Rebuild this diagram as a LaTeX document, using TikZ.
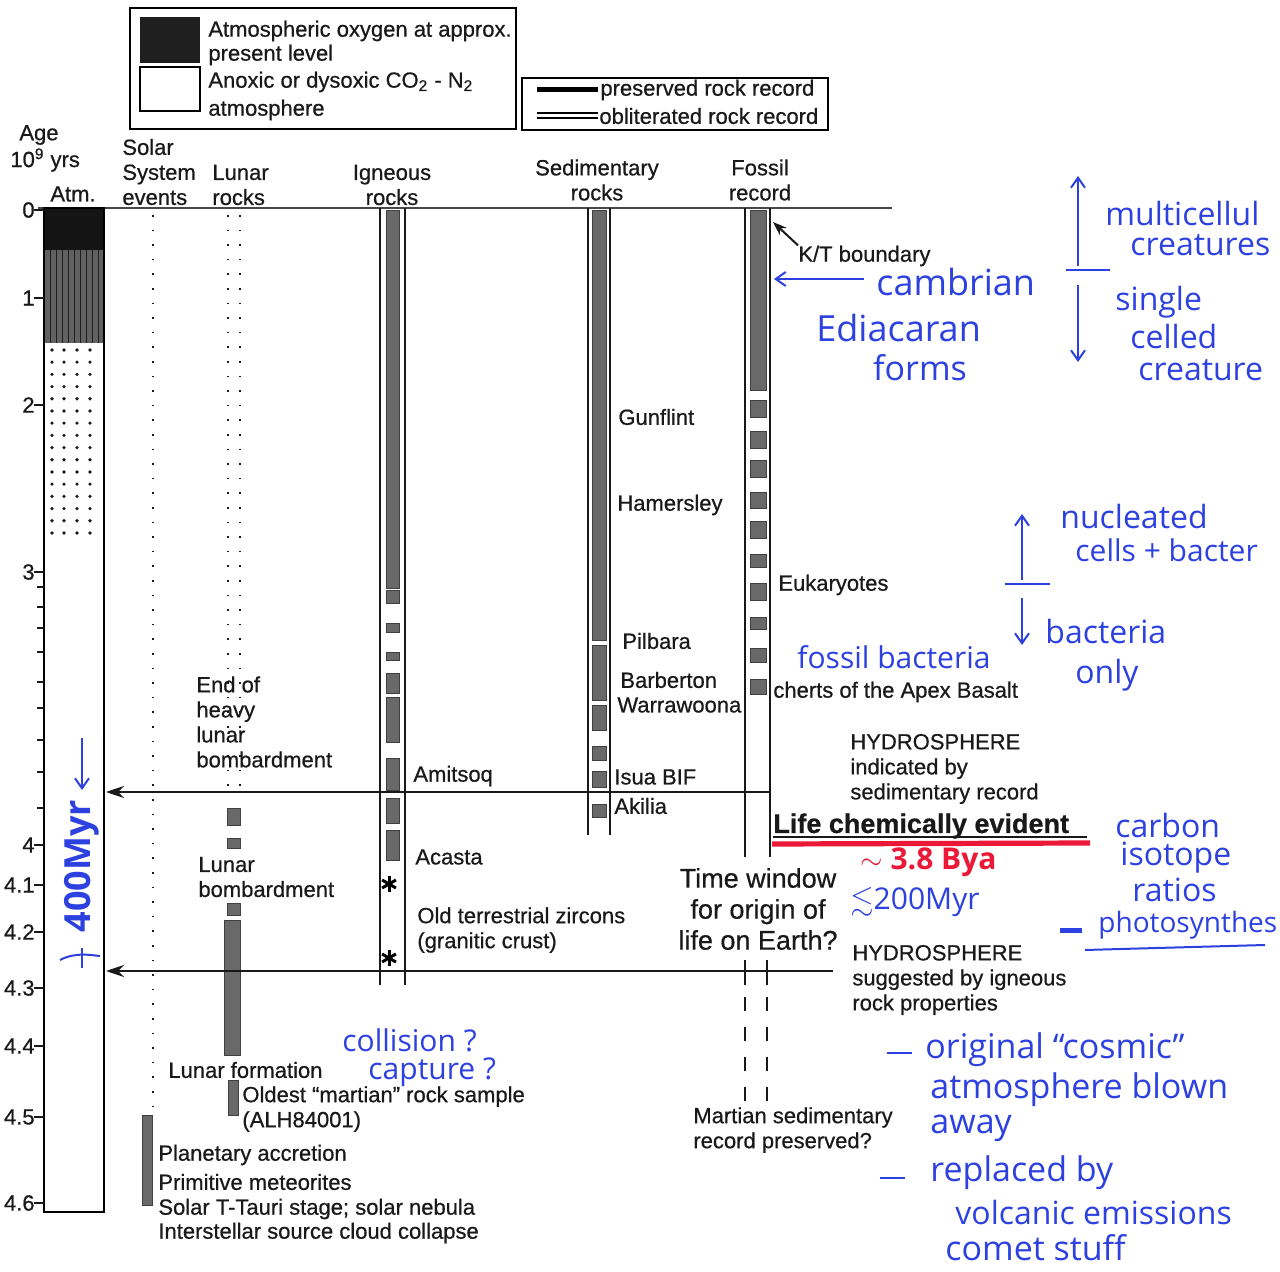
\documentclass[tikz,border=0pt]{standalone}
\usepackage{amssymb}
\usepackage{fontspec}
\setmainfont{Liberation Sans}[FakeBold=0.6]
\newfontfamily\hand{Open Sans}
\usetikzlibrary{arrows.meta}
\definecolor{ink}{RGB}{25,25,25}
\definecolor{pen}{RGB}{45,65,225}
\definecolor{redpen}{RGB}{235,25,55}
\definecolor{bargray}{RGB}{105,105,105}
\tikzset{
 lbl/.style={font=\fontsize{11}{12.5}\selectfont, inner sep=0pt, anchor=west, text=ink},
 lblc/.style={lbl, anchor=center, align=center},
 hw/.style={font=\hand\fontsize{16}{20}\selectfont, text=pen, inner sep=0pt, anchor=west},
 colline/.style={draw=ink, line width=0.9pt},
 bar/.style={fill=bargray, draw=black!75, line width=0.3pt},
 dotcol/.style={draw=ink, line width=0.9pt, dash pattern=on 0.8pt off 6.5pt},
 tickmark/.style={draw=ink, line width=0.8pt},
 harrow/.style={draw=ink, line width=1.1pt, -{Stealth[length=9pt,width=6pt]}},
 penarrow/.style={draw=pen, line width=1pt, -{Straight Barb[length=5pt,width=7pt]}},
 penline/.style={draw=pen, line width=1pt},
}
\begin{document}
\begin{tikzpicture}[x=0.5pt,y=-0.5pt]
\useasboundingbox (0,0) rectangle (1280,1272);
\fill[white] (0,0) rectangle (1280,1272);
% ---------- legend 1
\draw[line width=1.3pt] (130,8) rectangle (516,129);
\node (sw1) [fill=black!88, minimum width=30pt, minimum height=23pt, inner sep=0pt] at (170,40) {};
\node (sw2) [draw, line width=0.8pt, minimum width=30pt, minimum height=22pt, inner sep=0pt] at (170,89) {};
\node[lbl] (lg1) at (208,31) {Atmospheric oxygen at approx.};
\node[lbl] (lg2) at (208,55) {present level};
\node[lbl] (lg3) at (208,82) {Anoxic or dysoxic CO\textsubscript{2} - N\textsubscript{2}};
\node[lbl] (lg4) at (208,110) {atmosphere};
% ---------- legend 2
\draw[line width=1.3pt] (522,78) rectangle (828,130);
\draw[line width=2.5pt] (537,90) -- (598,90);
\draw[line width=0.7pt] (537,113) -- (598,113);
\draw[line width=0.7pt] (537,118) -- (598,118);
\node[lbl] (lg5) at (600,90) {preserved rock record};
\node[lbl] (lg6) at (599,116) {obliterated rock record};
% ---------- headers
\node[lbl] (age) at (19,135) {Age};
\node[lbl] (yrs) at (10,160) {10\textsuperscript{9} yrs};
\node[lbl] (atm) at (50,194) {Atm.};
\node[lbl, align=left] (sse) at (122,172) {Solar\\System\\events};
\node[lbl, align=left] (lunh) at (212,185) {Lunar\\rocks};
\node[lblc] (ignh) at (392,185) {Igneous\\rocks};
\node[lblc] (sedh) at (597,180) {Sedimentary\\rocks};
\node[lblc] (fosh) at (760,180) {Fossil\\record};
\draw[ink!80, line width=0.7pt] (38,208) -- (892,208);
% ---------- atmosphere column
\fill[black!92] (44,208) rectangle (104,250);
\fill[black!62] (44,250) rectangle (104,343);
\foreach \x in {50,56,...,100} \draw[black!88, line width=0.4pt] (\x,250) -- (\x,343);
\foreach \r in {0,...,15} \foreach \x in {52,64,77,90} \fill[ink] (\x,{350+\r*12.2}) circle (0.9pt);
\draw[line width=1.2pt] (44,208) rectangle (104,1212);
% ---------- axis
\foreach \y/\t [count=\i] in {210/0, 298/1, 405/2, 572/3, 845/4, 885/4.1, 932/4.2, 988/4.3, 1046/4.4, 1117/4.5, 1203/4.6} {
  \draw[tickmark] (34,\y) -- (44,\y);
  \node[lbl, anchor=east] (ax\i) at (35,\y) {\t};
}
\foreach \y in {587,607,628,652,682,708,740,772,808} \draw[tickmark] (37,\y) -- (44,\y);
% ---------- solar system events
\draw[dotcol] (153,215) -- (153,1110);
\draw[bar] (142,1115) rectangle (152,1205);
% ---------- lunar rocks
\draw[dotcol] (228,215) -- (228,790);
\draw[dotcol] (240,215) -- (240,790);
\draw[bar] (227,808) rectangle (240,825);
\draw[bar] (227,838) rectangle (240,848);
\draw[bar] (227,903) rectangle (240,915);
\draw[bar] (224,920) rectangle (240,1055);
\draw[bar] (228,1080) rectangle (238,1115);
% ---------- igneous rocks
\draw[colline] (380,208) -- (380,985);
\draw[colline] (405,208) -- (405,985);
\draw[bar] (386,210) rectangle (399,588);
\foreach \a/\b in {590/603, 623/632, 652/660, 673/693, 697/742, 758/790, 798/823, 830/860}
  \draw[bar] (386,\a) rectangle (399,\b);
\foreach \c in {(389,884),(389,958)} \foreach \a in {90,30,150} {
  \draw[line width=1.5pt] \c ++(\a:8) -- ++(\a+180:16);
}
% ---------- sedimentary rocks
\draw[colline] (588,208) -- (588,835);
\draw[colline] (610,208) -- (610,835);
\draw[bar] (592,210) rectangle (606,640);
\foreach \a/\b in {645/700, 705/730, 746/760, 771/787, 804/817}
  \draw[bar] (592,\a) rectangle (606,\b);
% ---------- fossil record
\draw[colline] (745,208) -- (745,857);
\draw[colline] (770,208) -- (770,857);
\draw[bar] (750,210) rectangle (766,390);
\foreach \a/\b in {400/417, 431/448, 460/477, 492/508, 521/538, 554/567, 583/600, 617/629, 648/662, 679/694}
  \draw[bar] (750,\a) rectangle (766,\b);
\draw[colline] (745,960) -- (745,985);
\draw[colline] (767,960) -- (767,985);
\draw[colline, dash pattern=on 7pt off 8pt] (745,997) -- (745,1105);
\draw[colline, dash pattern=on 7pt off 8pt] (767,997) -- (767,1105);
% ---------- horizontal arrows
\coordinate (a1s) at (770,792);
\coordinate (a1e) at (106,792);
\draw[harrow] (a1s) -- (a1e);
\coordinate (a2s) at (833,971);
\coordinate (a2e) at (106,971);
\draw[harrow] (a2s) -- (a2e);
% ---------- printed labels
\node[lbl] (kt) at (798,256) {K/T boundary};
\coordinate (kttip) at (773,222);
\draw[ink, line width=1pt, -{Stealth[length=7pt,width=5pt]}] (kt.north west) -- (kttip);
\node[lbl] (gun) at (618,417) {Gunflint};
\node[lbl] (ham) at (617,505) {Hamersley};
\node[lbl] (pil) at (622,641) {Pilbara};
\node[lbl] (bar) at (620,680) {Barberton};
\node[lbl] (war) at (617,705) {Warrawoona};
\node[lbl] (isua) at (614,777) {Isua BIF};
\node[lbl] (aki) at (614,806) {Akilia};
\node[lbl] (ami) at (413,776) {Amitsoq};
\node[lbl] (aca) at (415,857) {Acasta};
\node[lbl, align=left] (zirc) at (417,930) {Old terrestrial zircons\\(granitic crust)};
\node[lbl, align=left] (eohlb) at (196,722) {End of\\heavy\\lunar\\bombardment};
\node[lbl, align=left] (lb) at (198,877) {Lunar\\bombardment};
\node[lbl] (lf) at (168,1070) {Lunar formation};
\node[lbl, align=left] (mars) at (242,1109) {Oldest “martian” rock sample\\(ALH84001)};
\node[lbl] (pa) at (158,1155) {Planetary accretion};
\node[lbl] (pm) at (158,1182) {Primitive meteorites};
\node[lbl] (tt) at (158,1209) {Solar T-Tauri stage; solar nebula};
\node[lbl] (isc) at (158,1233) {Interstellar source cloud collapse};
\node[lbl] (euk) at (778,585) {Eukaryotes};
\node[lbl] (apex) at (773,692) {cherts of the Apex Basalt};
\node[lbl, align=left] (hyd1) at (850,769) {HYDROSPHERE\\indicated by\\sedimentary record};
\node[lbl, font=\bfseries\fontsize{13.5}{15}\selectfont] (life) at (773,826) {Life chemically evident};
\draw[ink, line width=0.9pt] (773,837) -- (1087,837);
\draw[redpen, line width=2.6pt] (772,844) -- (1090,843);
\node[lblc, font=\fontsize{13.5}{15.5}\selectfont] (tw) at (758,909) {Time window\\for origin of\\life on Earth?};
\node[lbl, align=left] (hyd2) at (852,980) {HYDROSPHERE\\suggested by igneous\\rock properties};
\node[lbl, align=left] (msr) at (693,1130) {Martian sedimentary\\record preserved?};
% ---------- handwritten annotations
\node[hw, font=\hand\fontsize{18}{22}\selectfont] (camb) at (876,282) {cambrian};
\coordinate (cambtip) at (774,279);
\coordinate (cambtail) at (864,279);
\draw[penarrow] (cambtail) -- (cambtip);
\node[hw, font=\hand\fontsize{18}{22}\selectfont] (edia) at (816,328) {Ediacaran};
\node[hw, font=\hand\fontsize{17}{22}\selectfont, anchor=center] (forms) at (920,368) {forms};
\coordinate (mu1) at (1078,266); \coordinate (mu2) at (1078,176);
\draw[penarrow] (mu1) -- (mu2);
\draw[penline] (1066,270) -- (1110,270);
\coordinate (md1) at (1078,285); \coordinate (md2) at (1078,362);
\draw[penarrow] (md1) -- (md2);
\node[hw] (multi) at (1105,214) {multicellul};
\node[hw] (crea1) at (1130,245) {creatures};
\node[hw] (sing) at (1115,302) {single};
\node[hw] (cell) at (1130,337) {celled};
\node[hw] (crea2) at (1138,370) {creature};
\coordinate (nu1) at (1022,580); \coordinate (nu2) at (1022,514);
\draw[penarrow] (nu1) -- (nu2);
\draw[penline] (1005,584) -- (1050,584);
\coordinate (nd1) at (1022,598); \coordinate (nd2) at (1022,645);
\draw[penarrow] (nd1) -- (nd2);
\node[hw] (nucl) at (1060,517) {nucleated};
\node[hw, font=\hand\fontsize{15}{20}\selectfont] (cellb) at (1075,550) {cells + bacter};
\node[hw] (bact) at (1045,632) {bacteria};
\node[hw] (only) at (1075,675) {only};
\node[hw, font=\hand\fontsize{15}{19}\selectfont] (fossb) at (797,657) {fossil bacteria};
\node[hw, font=\hand\bfseries\fontsize{15}{20}\selectfont, text=redpen] (bya) at (860,862) {$\sim$ 3.8 Bya};
\node[hw, font=\hand\fontsize{15}{20}\selectfont] (myr200) at (850,902) {$\lesssim$200Myr};
\node[hw] (carb) at (1115,825) {carbon};
\node[hw] (iso) at (1120,858) {isotope};
\node[hw] (rat) at (1132,890) {ratios};
\draw[pen, line width=2.5pt] (1060,930) -- (1082,930);
\node[hw, font=\hand\fontsize{14}{18}\selectfont] (photo) at (1098,925) {photosynthes};
\draw[penline] (1085,950) -- (1265,945);
\node[hw, font=\hand\fontsize{15}{18}\selectfont] (coll) at (342,1040) {collision ?};
\node[hw, font=\hand\fontsize{15}{18}\selectfont] (capt) at (368,1072) {capture ?};
\draw[penline] (887,1053) -- (912,1053);
\node[hw, font=\hand\fontsize{17}{20}\selectfont] (orig) at (925,1050) {original “cosmic”};
\node[hw, font=\hand\fontsize{17}{20}\selectfont] (atmb) at (930,1090) {atmosphere blown};
\node[hw, font=\hand\fontsize{17}{20}\selectfont] (away) at (930,1128) {away};
\draw[penline] (880,1178) -- (905,1178);
\node[hw, font=\hand\fontsize{17}{20}\selectfont] (repl) at (930,1173) {replaced by};
\node[hw, font=\hand\fontsize{16}{20}\selectfont] (volc) at (955,1212) {volcanic emissions};
\node[hw, font=\hand\fontsize{17}{20}\selectfont] (comet) at (945,1248) {comet stuff};
% 400 Myr annotation
\node[hw, anchor=center, rotate=90, font=\hand\bfseries\fontsize{18}{22}\selectfont] (myr400) at (82,866) {400Myr};
\coordinate (my1) at (82,738); \coordinate (my2) at (82,790);
\draw[penarrow] (my1) -- (my2);
\draw[penline] (60,960) .. controls (75,952) and (90,955) .. (100,956);
\coordinate (mb1) at (82,948); \coordinate (mb2) at (82,968);
\draw[penline] (mb1) -- (mb2);
\end{tikzpicture}
\end{document}
